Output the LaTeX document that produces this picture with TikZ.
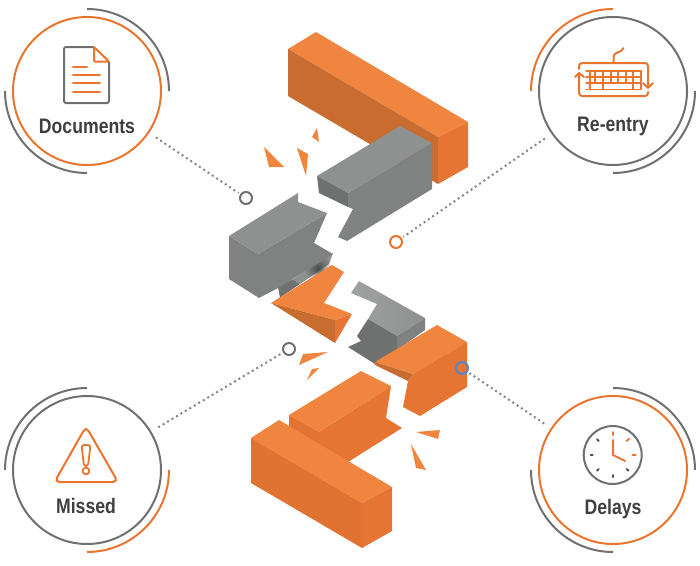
\documentclass[tikz,border=0pt]{standalone}
\usepackage{fontspec}
\setmainfont[FakeStretch=0.84]{Liberation Sans}
\usepackage{tikz}
\usetikzlibrary{calc,fadings}
\definecolor{ringorange}{HTML}{E9752F}
\definecolor{ringgray}{HTML}{6F7070}
\definecolor{labelgray}{HTML}{3F3F3F}
\definecolor{ortop}{HTML}{EF853E}
\definecolor{orfront}{HTML}{E67432}
\definecolor{ordark}{HTML}{C96C30}
\definecolor{grtop}{HTML}{8F9191}
\definecolor{grfront}{HTML}{808282}
\definecolor{grdark}{HTML}{6F7171}
\definecolor{dotblue}{HTML}{5B86C0}
\tikzfading[name=softspot,inner color=transparent!0,outer color=transparent!100]
\tikzset{
  bigring/.style={circle,draw=#1,line width=2pt,minimum size=148pt,inner sep=0pt},
  tinyring/.style={circle,draw=#1,line width=2pt,minimum size=12pt,inner sep=0pt},
  dotline/.style={draw=ringgray!85,line width=2pt,dash pattern=on 2pt off 3.2pt,shorten <=8pt,shorten >=2pt},
  ringlabel/.style={anchor=base,text=labelgray,font=\fontsize{21}{21}\selectfont\bfseries},
  iconline/.style={draw=#1,line width=2pt,line cap=round,line join=round}
}
\def\ringarc[#1](#2)(#3:#4)% Syntax: [colour] (center) (initial angle:final angle)
    { \draw[draw=#1,line width=2pt] ($(#2)+(#3:82pt)$) arc (#3:#4:82pt); }
\begin{document}
\begin{tikzpicture}[x=1pt,y=-1pt]
   \useasboundingbox (0,0) rectangle (700,565);

   % top bar
   \fill[ortop] (288,49) -- (316,32) -- (468,122) -- (438,137) -- cycle;
   \fill[ordark] (288,49) -- (438,137) -- (438,184) -- (288,96) -- cycle;
   \fill[orfront] (438,137) -- (468,122) -- (468,167) -- (438,184) -- cycle;

   % upper gray piece
   \fill[grtop] (317,176) -- (400,126) -- (432,143) -- (348,193) -- cycle;
   \fill[grdark] (317,176) -- (348,193) -- (348,207) -- (319,193) -- cycle;
   \fill[grfront] (348,193) -- (432,143) -- (432,189) -- (347,241) -- (338,237) -- (353,209) -- (348,207) -- cycle;

   % pieces below the left block
   \fill[grdark] (278,287) -- (280,298) -- (272,303) -- (300,284) -- (293,279) -- cycle;
   \fill[grtop] (293,279) -- (333,253) -- (329,264) -- (300,284) -- cycle;
   \fill[black!70,path fading=softspot] (318,268) circle (14pt);

   % left gray piece
   \fill[grfront] (229,236) -- (258,254) -- (327,213) -- (314,243) -- (333,254) -- (278,288) -- (259,298) -- (229,279) -- cycle;
   \fill[grtop] (229,236) -- (298,193) -- (298,202) -- (327,213) -- (258,254) -- cycle;

   % middle orange piece
   \fill[ortop] (271,303) -- (332,265) -- (344,272) -- (324,303) -- (352,314) -- (335,320) -- cycle;
   \fill[ordark] (271,303) -- (335,320) -- (335,343) -- cycle;
   \fill[orfront] (335,320) -- (352,314) -- (335,343) -- cycle;

   % middle gray piece
   \shade[left color=grtop!85!white,right color=grtop] (359,281) -- (425,318) -- (397,336) -- (368,319) -- (377,304) -- (351,293) -- cycle;
   \fill[grfront] (397,336) -- (425,318) -- (425,330) -- (397,350) -- cycle;
   \fill[grdark] (368,319) -- (397,336) -- (397,350) -- (375,364) -- (348,347) -- (361,341) -- (357,336) -- cycle;

   % right orange piece
   \fill[ortop] (437,325) -- (467,342) -- (413,374) -- (375,362) -- cycle;
   \fill[ordark] (375,362) -- (413,374) -- (408,381) -- (375,365) -- cycle;
   \fill[orfront] (413,374) -- (467,342) -- (467,387) -- (420,416) -- (403,407) -- (408,381) -- cycle;

   % lower orange piece
   \fill[orfront] (319,432) -- (391,386) -- (386,418) -- (402,428) -- (348,462) -- (319,446) -- cycle;
   \fill[ortop] (289,415) -- (361,371) -- (391,386) -- (319,432) -- cycle;
   \fill[orfront!85!ordark] (289,415) -- (319,432) -- (319,446) -- (289,428) -- cycle;

   % bottom bar
   \fill[ortop] (251,438) -- (279,420) -- (392,487) -- (362,503) -- cycle;
   \fill[orfront!80!ordark] (251,438) -- (362,503) -- (362,548) -- (251,483) -- cycle;
   \fill[orfront] (362,503) -- (392,487) -- (392,531) -- (362,548) -- cycle;

   % shards
   \fill[ortop] (264,147) -- (284,167) -- (269,167) -- cycle;
   \fill[ortop] (297,148) -- (308,154) -- (306,176) -- cycle;
   \fill[ortop] (317,128) -- (319,142) -- (312,137) -- cycle;
   \fill[ortop] (328,352) -- (303,354) -- (299,365) -- cycle;
   \fill[ortop] (319,368) -- (312,369) -- (307,380) -- cycle;
   \fill[ortop] (416,432) -- (440,430) -- (438,439) -- cycle;
   \fill[ortop] (411,444) -- (426,470) -- (416,468) -- cycle;

   % rings
   \node[bigring=ringorange] (docs) at (87,91) {};
   \node[bigring=ringgray] (reentry) at (613,91) {};
   \node[bigring=ringgray] (missed) at (87,470) {};
   \node[bigring=ringorange] (delays) at (613,470) {};
   \ringarc[ringgray](docs)(0:90)
   \ringarc[ringgray](docs)(180:270)
   \ringarc[ringorange](reentry)(90:180)
   \ringarc[ringgray](reentry)(-90:0)
   \ringarc[ringgray](missed)(90:180)
   \ringarc[ringorange](missed)(-90:0)
   \ringarc[ringgray](delays)(0:90)
   \ringarc[ringgray](delays)(180:270)

   % labels
   \node[ringlabel] (docslabel) at (87,133) {Documents};
   \node[ringlabel] (reentrylabel) at (613,131) {Re-entry};
   \node[ringlabel] (missedlabel) at (86,513.5) {Missed};
   \node[ringlabel] (delayslabel) at (613,514) {Delays};

   % callouts
   \node[tinyring=ringgray] (docsdot) at (246,198) {};
   \node[tinyring=ringorange] (reentrydot) at (396,242) {};
   \node[tinyring=ringgray] (misseddot) at (289,349) {};
   \node[tinyring=dotblue] (delaysdot) at (462,368) {};
   \draw[dotline] (docs) -- (docsdot);
   \draw[dotline] (reentry) -- (reentrydot);
   \draw[dotline] (missed) -- (misseddot);
   \draw[dotline] (delays) -- (delaysdot);

   % document icon
   \draw[iconline=ringgray,rounded corners=2pt] (94,47) -- (64,47) -- (64,103) -- (109,103) -- (109,62);
   \draw[iconline=ringorange,rounded corners=1pt] (94,47) -- (94,61.5) -- (109,61.5) -- cycle;
   \draw[iconline=ringorange] (73,66.7) -- (87,66.7);
   \foreach \y in {75,83.3,91.7}
     \draw[iconline=ringorange] (73,\y) -- (100,\y);

   % keyboard icon
   \draw[iconline=ringorange,rounded corners=3pt] (579,69) -- (579,63) -- (648,63) -- (648,87);
   \draw[iconline=ringorange,rounded corners=3pt] (648,92) -- (648,96) -- (579,96) -- (579,73);
   \draw[iconline=ringorange] (575,77) -- (579,73) -- (584,77);
   \draw[iconline=ringorange] (643,83) -- (648,88) -- (653,83);
   \draw[iconline=ringorange] (613.5,63) -- (613.5,57) .. controls (613.5,51) and (621,54) .. (623.5,48);
   \draw[iconline=ringorange,line width=1.6pt] (590,70.7) rectangle (641,89.3);
   \foreach \y in {70.7,76.7,82.7,89.3}
     \draw[iconline=ringorange,line width=1.6pt] (586,\y) -- (641,\y);
   \foreach \x in {595,603,611,618,626,633}
     \draw[iconline=ringorange,line width=1.6pt] (\x,70.7) -- (\x,82.7);
   \foreach \x in {603,633}
     \draw[iconline=ringorange,line width=1.6pt] (\x,82.7) -- (\x,89.3);

   % warning icon
   \draw[iconline=ringorange,rounded corners=5pt] (86,426.5) -- (118,482) -- (54.5,482) -- cycle;
   \draw[iconline=ringorange,line width=1.8pt,rounded corners=2.5pt] (81.5,445) -- (90.5,445) -- (88,466) -- (84,466) -- cycle;
   \draw[iconline=ringorange,line width=1.8pt] (86,471) circle (3.4pt);

   % clock icon
   \node[circle,iconline=ringgray,minimum size=58pt,inner sep=0pt] (clock) at (612.7,455) {};
   \foreach \a in {135,180,225,270,315}
     \draw[iconline=labelgray!70!ringgray] ($(clock.center)+(\a:20pt)$) -- ($(clock.center)+(\a:22pt)$);
   \foreach \a in {0,45,90}
     \draw[iconline=ringorange] ($(clock.center)+(\a:20pt)$) -- ($(clock.center)+(\a:23pt)$);
   \draw[iconline=ringorange] (613,440) -- (613,455) -- (625,461);
\end{tikzpicture}
\end{document}
